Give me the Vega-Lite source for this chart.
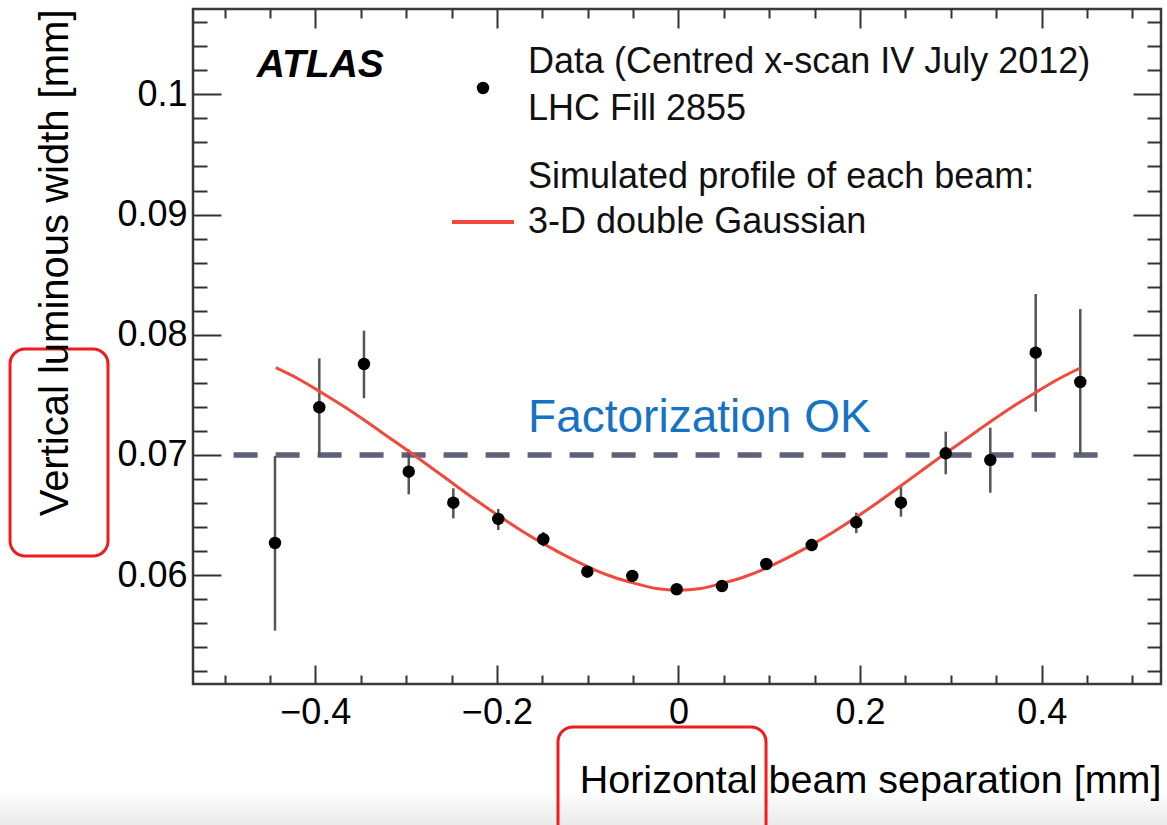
{
  "$schema": "https://vega.github.io/schema/vega-lite/v6.json",
  "width": 968,
  "height": 675,
  "autosize": {"type": "none"},
  "padding": {"left": 193, "top": 9, "right": 6, "bottom": 141},
  "background": "#ffffff",
  "config": {
    "view": {"stroke": "#3a3a3a", "strokeWidth": 2.5},
    "font": "Liberation Sans",
    "axis": {
      "labelFont": "Liberation Sans",
      "titleFont": "Liberation Sans",
      "tickColor": "#333333",
      "tickWidth": 2,
      "domain": false,
      "grid": false,
      "labelColor": "#000000",
      "titleColor": "#000000",
      "titleFontWeight": "normal",
      "labelFlush": false,
      "labelOverlap": false
    }
  },
  "datasets": {
    "points": [
      {"x": -0.4444, "y": 0.06268, "lo": 0.05539, "hi": 0.06992},
      {"x": -0.3956, "y": 0.07397, "lo": 0.06986, "hi": 0.07804},
      {"x": -0.3464, "y": 0.07757, "lo": 0.07472, "hi": 0.08034},
      {"x": -0.2971, "y": 0.06861, "lo": 0.06673, "hi": 0.07047},
      {"x": -0.248, "y": 0.06603, "lo": 0.06473, "hi": 0.06723},
      {"x": -0.1985, "y": 0.06468, "lo": 0.06376, "hi": 0.06551},
      {"x": -0.1489, "y": 0.06299, "lo": 0.0624, "hi": 0.0636},
      {"x": -0.1004, "y": 0.06029, "lo": 0.05985, "hi": 0.06073},
      {"x": -0.0509, "y": 0.05994, "lo": 0.05955, "hi": 0.06033},
      {"x": -0.002, "y": 0.05883, "lo": 0.05845, "hi": 0.05921},
      {"x": 0.0479, "y": 0.0591, "lo": 0.05872, "hi": 0.05948},
      {"x": 0.0967, "y": 0.06093, "lo": 0.0605, "hi": 0.06136},
      {"x": 0.1467, "y": 0.06251, "lo": 0.062, "hi": 0.06302},
      {"x": 0.1958, "y": 0.0644, "lo": 0.0635, "hi": 0.0652},
      {"x": 0.245, "y": 0.06603, "lo": 0.06487, "hi": 0.06736},
      {"x": 0.2943, "y": 0.07014, "lo": 0.0684, "hi": 0.07194},
      {"x": 0.3434, "y": 0.06958, "lo": 0.06686, "hi": 0.07227},
      {"x": 0.3934, "y": 0.07851, "lo": 0.0736, "hi": 0.08339},
      {"x": 0.4425, "y": 0.07607, "lo": 0.07008, "hi": 0.08214}
    ],
    "curve": [
      {"x": -0.4435, "y": 0.07726},
      {"x": -0.4165, "y": 0.07624},
      {"x": -0.392, "y": 0.07514},
      {"x": -0.3675, "y": 0.07399},
      {"x": -0.343, "y": 0.07274},
      {"x": -0.3185, "y": 0.07144},
      {"x": -0.294, "y": 0.07014},
      {"x": -0.2695, "y": 0.0688},
      {"x": -0.245, "y": 0.06744},
      {"x": -0.2205, "y": 0.06611},
      {"x": -0.196, "y": 0.06484},
      {"x": -0.1715, "y": 0.06364},
      {"x": -0.147, "y": 0.06254},
      {"x": -0.1225, "y": 0.06154},
      {"x": -0.098, "y": 0.06064},
      {"x": -0.0735, "y": 0.05989},
      {"x": -0.049, "y": 0.05934},
      {"x": -0.0245, "y": 0.05889},
      {"x": 0, "y": 0.05874},
      {"x": 0.0245, "y": 0.05889},
      {"x": 0.049, "y": 0.05934},
      {"x": 0.0735, "y": 0.05989},
      {"x": 0.098, "y": 0.06064},
      {"x": 0.1225, "y": 0.06154},
      {"x": 0.147, "y": 0.06254},
      {"x": 0.1715, "y": 0.06364},
      {"x": 0.196, "y": 0.06484},
      {"x": 0.2205, "y": 0.06611},
      {"x": 0.245, "y": 0.06744},
      {"x": 0.2695, "y": 0.0688},
      {"x": 0.294, "y": 0.07014},
      {"x": 0.3185, "y": 0.07144},
      {"x": 0.343, "y": 0.07274},
      {"x": 0.3675, "y": 0.07399},
      {"x": 0.392, "y": 0.07514},
      {"x": 0.4165, "y": 0.07624},
      {"x": 0.4425, "y": 0.07724}
    ],
    "hline": [{"x": -0.49, "x2": 0.463, "y": 0.07}],
    "legendDot": [{"x": -0.2153, "y": 0.10053}],
    "legendLine": [{"x": -0.2495, "x2": -0.1812, "y": 0.08938}],
    "atlas": [{"x": -0.4645, "y": 0.10146, "label": "ATLAS"}],
    "legendText": [
      {"x": -0.1657, "y": 0.10175, "label": "Data (Centred x-scan IV July 2012)"},
      {"x": -0.1657, "y": 0.09786, "label": "LHC Fill 2855"},
      {"x": -0.1657, "y": 0.09218, "label": "Simulated profile of each beam:"},
      {"x": -0.1657, "y": 0.08849, "label": "3-D double Gaussian"}
    ],
    "note": [{"x": -0.1657, "y": 0.07191, "label": "Factorization OK"}],
    "boxes": [
      {"x": -0.7362, "x2": -0.6283, "y": 0.07882, "y2": 0.0616},
      {"x": -0.1327, "x2": 0.0964, "y": 0.04738, "y2": 0.03798}
    ],
    "band": [{"x": -0.75, "x2": 0.54, "y": 0.04214, "y2": 0.03914}]
  },
  "layer": [
    {
      "data": {"name": "band"},
      "mark": {"type": "rect", "color": {"gradient": "linear", "x1": 0, "y1": 0, "x2": 0, "y2": 1, "stops": [{"offset": 0, "color": "#ffffff"}, {"offset": 1, "color": "#eaeaea"}]}},
      "encoding": {
        "x": {"field": "x", "type": "quantitative", "scale": {"domain": [-0.5347, 0.5314], "nice": false, "zero": false}, "axis": null},
        "x2": {"field": "x2"},
        "y": {"field": "y", "type": "quantitative", "scale": {"domain": [0.05095, 0.1071], "nice": false, "zero": false}, "axis": null},
        "y2": {"field": "y2"}
      }
    },
    {
      "data": {"name": "hline"},
      "mark": {"type": "rule", "color": "#5f6179", "strokeWidth": 5.5, "strokeDash": [24, 18]},
      "encoding": {
        "x": {"field": "x", "type": "quantitative", "scale": {"domain": [-0.5347, 0.5314], "nice": false, "zero": false},
          "axis": {"orient": "top", "values": [-0.5, -0.45, -0.35, -0.3, -0.25, -0.15, -0.1, -0.05, 0.05, 0.1, 0.15, 0.25, 0.3, 0.35, 0.45, 0.5], "tickSize": -9, "labels": false, "title": null}},
        "x2": {"field": "x2"},
        "y": {"field": "y", "type": "quantitative", "scale": {"domain": [0.05095, 0.1071], "nice": false, "zero": false},
          "axis": {"orient": "right", "values": [0.052, 0.054, 0.056, 0.058, 0.062, 0.064, 0.066, 0.068, 0.072, 0.074, 0.076, 0.078, 0.082, 0.084, 0.086, 0.088, 0.092, 0.094, 0.096, 0.098, 0.102, 0.104, 0.106], "tickSize": -14, "labels": false, "title": null}}
      }
    },
    {
      "data": {"name": "points"},
      "mark": {"type": "rule", "color": "#555555", "strokeWidth": 2.5},
      "encoding": {
        "x": {"field": "x", "type": "quantitative", "scale": {"domain": [-0.5347, 0.5314], "nice": false, "zero": false},
          "axis": {"orient": "bottom", "values": [-0.4, -0.2, 0, 0.2, 0.4], "format": "~g", "tickSize": -19, "labelPadding": 30, "labelFontSize": 36,
            "title": "Horizontal beam separation [mm]", "titleFontSize": 39.5, "titleAnchor": "end", "titleAlign": "right", "titleBaseline": "alphabetic", "titleY": 108, "zindex": 1}},
        "y": {"field": "lo", "type": "quantitative", "scale": {"domain": [0.05095, 0.1071], "nice": false, "zero": false},
          "axis": {"orient": "left", "values": [0.06, 0.07, 0.08, 0.09, 0.1], "format": "~g", "tickSize": -28, "labelPadding": 34, "labelFontSize": 36,
            "title": "Vertical luminous width [mm]", "titleFontSize": 40, "titleAnchor": "end", "titleAlign": "right", "titleBaseline": "alphabetic", "titleAngle": -90, "titleX": -126, "zindex": 1}},
        "y2": {"field": "hi"}
      }
    },
    {
      "data": {"name": "curve"},
      "mark": {"type": "line", "color": "#ef4a3b", "strokeWidth": 3, "interpolate": "monotone"},
      "encoding": {
        "x": {"field": "x", "type": "quantitative", "scale": {"domain": [-0.5347, 0.5314], "nice": false, "zero": false},
          "axis": {"orient": "top", "values": [-0.4, -0.2, 0, 0.2, 0.4], "tickSize": -19, "labels": false, "title": null}},
        "y": {"field": "y", "type": "quantitative", "scale": {"domain": [0.05095, 0.1071], "nice": false, "zero": false},
          "axis": {"orient": "right", "values": [0.06, 0.07, 0.08, 0.09, 0.1], "tickSize": -28, "labels": false, "title": null}}
      }
    },
    {
      "data": {"name": "points"},
      "mark": {"type": "circle", "color": "#000000", "size": 155, "opacity": 1},
      "encoding": {
        "x": {"field": "x", "type": "quantitative", "scale": {"domain": [-0.5347, 0.5314], "nice": false, "zero": false},
          "axis": {"orient": "bottom", "values": [-0.5, -0.45, -0.35, -0.3, -0.25, -0.15, -0.1, -0.05, 0.05, 0.1, 0.15, 0.25, 0.3, 0.35, 0.45, 0.5], "tickSize": -9, "labels": false, "title": null}},
        "y": {"field": "y", "type": "quantitative", "scale": {"domain": [0.05095, 0.1071], "nice": false, "zero": false},
          "axis": {"orient": "left", "values": [0.052, 0.054, 0.056, 0.058, 0.062, 0.064, 0.066, 0.068, 0.072, 0.074, 0.076, 0.078, 0.082, 0.084, 0.086, 0.088, 0.092, 0.094, 0.096, 0.098, 0.102, 0.104, 0.106], "tickSize": -14, "labels": false, "title": null}}
      }
    },
    {
      "data": {"name": "legendDot"},
      "mark": {"type": "circle", "color": "#000000", "size": 155, "opacity": 1},
      "encoding": {
        "x": {"field": "x", "type": "quantitative", "axis": null},
        "y": {"field": "y", "type": "quantitative", "axis": null}
      }
    },
    {
      "data": {"name": "legendLine"},
      "mark": {"type": "rule", "color": "#ef4a3b", "strokeWidth": 4},
      "encoding": {
        "x": {"field": "x", "type": "quantitative", "axis": null},
        "x2": {"field": "x2"},
        "y": {"field": "y", "type": "quantitative", "axis": null}
      }
    },
    {
      "data": {"name": "atlas"},
      "mark": {"type": "text", "font": "Liberation Sans", "fontSize": 39, "fontWeight": "bold", "fontStyle": "italic", "color": "#000000", "align": "left", "baseline": "alphabetic"},
      "encoding": {
        "x": {"field": "x", "type": "quantitative", "axis": null},
        "y": {"field": "y", "type": "quantitative", "axis": null},
        "text": {"field": "label"}
      }
    },
    {
      "data": {"name": "legendText"},
      "mark": {"type": "text", "font": "Liberation Sans", "fontSize": 36, "color": "#111111", "align": "left", "baseline": "alphabetic"},
      "encoding": {
        "x": {"field": "x", "type": "quantitative", "axis": null},
        "y": {"field": "y", "type": "quantitative", "axis": null},
        "text": {"field": "label"}
      }
    },
    {
      "data": {"name": "note"},
      "mark": {"type": "text", "font": "Liberation Sans", "fontSize": 46, "color": "#1673c4", "align": "left", "baseline": "alphabetic"},
      "encoding": {
        "x": {"field": "x", "type": "quantitative", "axis": null},
        "y": {"field": "y", "type": "quantitative", "axis": null},
        "text": {"field": "label"}
      }
    },
    {
      "data": {"name": "boxes"},
      "mark": {"type": "rect", "fill": null, "fillOpacity": 0, "stroke": "#ee1c1c", "strokeWidth": 3, "cornerRadius": 15},
      "encoding": {
        "x": {"field": "x", "type": "quantitative", "axis": null},
        "x2": {"field": "x2"},
        "y": {"field": "y", "type": "quantitative", "axis": null},
        "y2": {"field": "y2"}
      }
    }
  ],
  "resolve": {"axis": {"x": "independent", "y": "independent"}}
}
